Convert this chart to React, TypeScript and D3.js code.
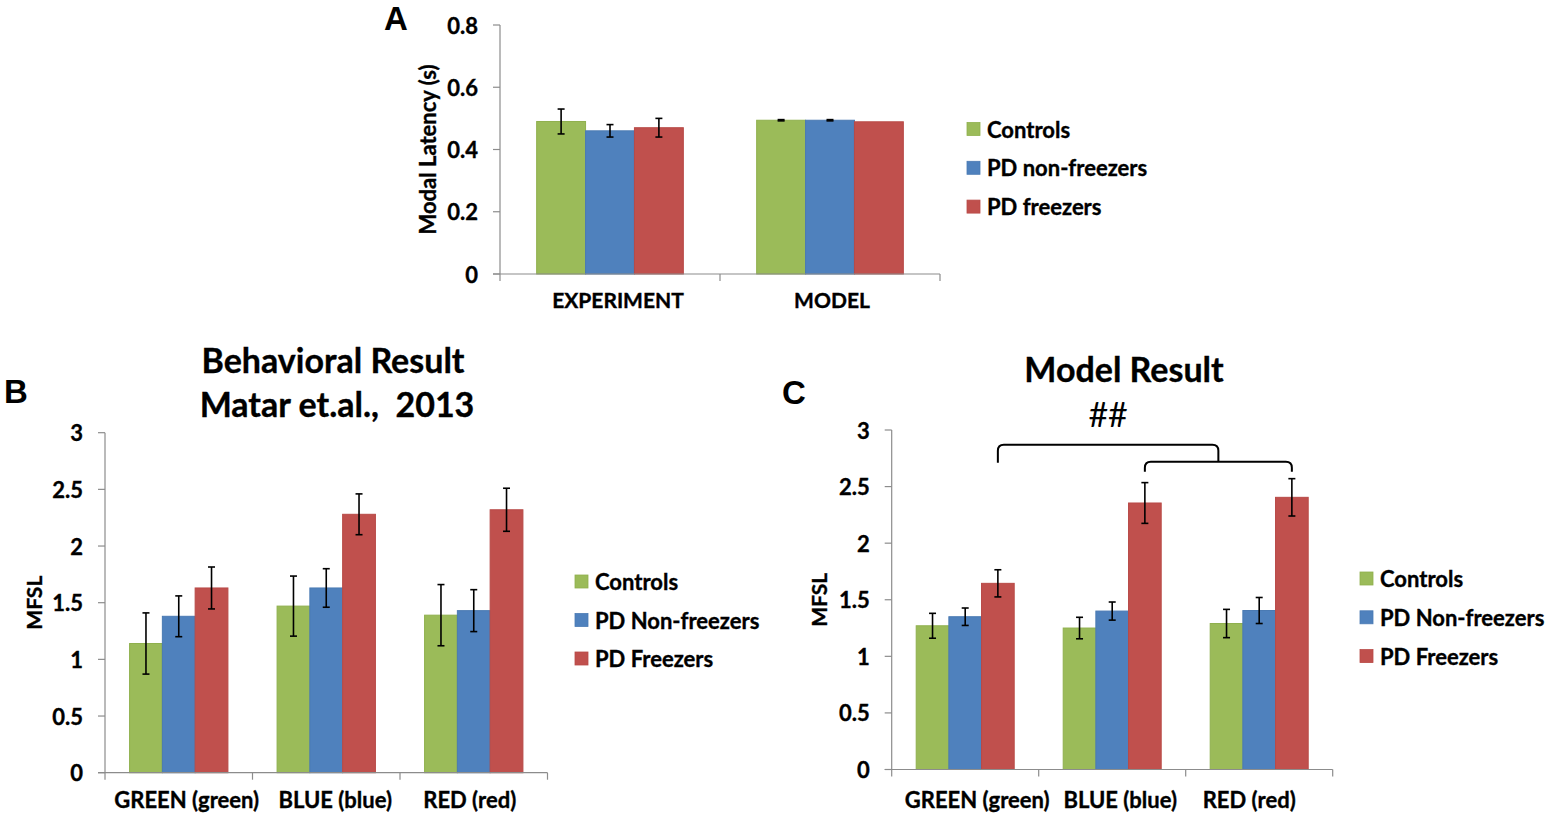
import React from "react";
import * as d3 from "d3";

// ---------- DATA ----------
const seriesA = ["Controls", "PD non-freezers", "PD freezers"];
const seriesBC = ["Controls", "PD Non-freezers", "PD Freezers"];
const seriesColors = ["#9BBB59", "#4F81BD", "#C0504D"];
const seriesStroke = ["#8FB04D", "#4A7AB3", "#B84A47"];

const aCategories = ["EXPERIMENT", "MODEL"];
const aControls = [0.49, 0.494];
const aControlsErr = [0.04, 0.002];
const aNonFreezers = [0.46, 0.494];
const aNonFreezersErr = [0.02, 0.002];
const aFreezers = [0.47, 0.489];
const aFreezersErr = [0.03, 0];
const aTicks = [0, 0.2, 0.4, 0.6, 0.8];

const bcCategories = ["GREEN (green)", "BLUE (blue)", "RED (red)"];
const bControls = [1.14, 1.47, 1.39];
const bControlsErr = [0.27, 0.265, 0.27];
const bNonFreezers = [1.38, 1.63, 1.43];
const bNonFreezersErr = [0.18, 0.17, 0.185];
const bFreezers = [1.63, 2.28, 2.32];
const bFreezersErr = [0.185, 0.18, 0.19];

const cControls = [1.27, 1.25, 1.29];
const cControlsErr = [0.11, 0.095, 0.125];
const cNonFreezers = [1.35, 1.4, 1.405];
const cNonFreezersErr = [0.077, 0.08, 0.115];
const cFreezers = [1.645, 2.355, 2.405];
const cFreezersErr = [0.12, 0.18, 0.165];
const bcTicks = [0, 0.5, 1, 1.5, 2, 2.5, 3];

// significance bracket levels (data units) for panel C
const bracketOuter = { top: 2.87, end: 2.71 };
const bracketInner = { top: 2.72, end: 2.63 };

const FONT = "Lato, 'Open Sans', sans-serif";
const AXIS = "#8C8C8C";
const boldText = { stroke: "#000", strokeWidth: 0.35 } as const;

type PanelProps = {
  categories: string[];
  values: number[][];
  errors: number[][];
  ticks: number[];
  x0: number;
  x1: number;
  yTop: number;
  yBottom: number;
  yMax: number;
  tickFmt: (v: number) => string;
  yTitle: string;
  yTitleX: number;
  yTitleSize: number;
  catLabelY: number;
  catLabelSize: number;
  catLabelDx?: number[];
  children?: (
    xs: d3.ScaleBand<string>,
    inner: d3.ScaleBand<string>,
    y: d3.ScaleLinear<number, number>
  ) => React.ReactNode;
};

function Panel(p: PanelProps) {
  const xs = d3.scaleBand<string>().domain(p.categories).range([p.x0, p.x1]).paddingInner(0).paddingOuter(0);
  const inner = d3
    .scaleBand<string>()
    .domain(["0", "1", "2"])
    .range([0, xs.bandwidth()])
    .paddingInner(0)
    .paddingOuter(0.75);
  const y = d3.scaleLinear().domain([0, p.yMax]).range([p.yBottom, p.yTop]);
  const bw = inner.bandwidth();
  const boundaries = [...p.categories.map((c) => xs(c)!), p.x1];

  return (
    <g>
      {p.categories.map((c, ci) =>
        p.values.map((vals, si) => {
          const x = xs(c)! + inner(String(si))!;
          return (
            <rect
              key={`b-${ci}-${si}`}
              x={x}
              y={y(vals[ci])}
              width={bw}
              height={y(0) - y(vals[ci])}
              fill={seriesColors[si]}
              stroke={seriesStroke[si]}
              strokeWidth={1}
            />
          );
        })
      )}
      <line x1={p.x0} x2={p.x0} y1={p.yTop} y2={p.yBottom} stroke={AXIS} strokeWidth={1.2} />
      <line x1={p.x0 - 7} x2={p.x1} y1={p.yBottom} y2={p.yBottom} stroke={AXIS} strokeWidth={1.2} />
      {p.ticks.map((t) => (
        <g key={`t-${t}`}>
          <line x1={p.x0 - 7} x2={p.x0} y1={y(t)} y2={y(t)} stroke={AXIS} strokeWidth={1.2} />
          <text
            x={p.x0 - 22}
            y={y(t)}
            textAnchor="end"
            dominantBaseline="central"
            fontFamily={FONT}
            fontWeight={700}
            fontSize={22}
            fill="#000"
            {...boldText}
          >
            {p.tickFmt(t)}
          </text>
        </g>
      ))}
      {boundaries.map((bx, i) => (
        <line key={`xb-${i}`} x1={bx} x2={bx} y1={p.yBottom} y2={p.yBottom + 7} stroke={AXIS} strokeWidth={1.2} />
      ))}
      {p.categories.map((c, ci) => (
        <text
          key={`cl-${c}`}
          x={xs(c)! + xs.bandwidth() / 2 + (p.catLabelDx ? p.catLabelDx[ci] : 0)}
          y={p.catLabelY}
          textAnchor="middle"
          fontFamily={FONT}
          fontWeight={700}
          fontSize={p.catLabelSize}
          fill="#000"
          {...boldText}
        >
          {c}
        </text>
      ))}
      {p.categories.map((c, ci) =>
        p.values.map((vals, si) => {
          const e = p.errors[si][ci];
          if (e <= 0) return null;
          const cx = xs(c)! + inner(String(si))! + bw / 2;
          const yt = y(vals[ci] + e);
          const yb = y(vals[ci] - e);
          return (
            <g key={`e-${ci}-${si}`} stroke="#000" strokeWidth={1.6}>
              <line x1={cx} x2={cx} y1={yt} y2={yb} />
              <line x1={cx - 3.5} x2={cx + 3.5} y1={yt} y2={yt} />
              <line x1={cx - 3.5} x2={cx + 3.5} y1={yb} y2={yb} />
            </g>
          );
        })
      )}
      <text
        transform={`translate(${p.yTitleX},${(p.yTop + p.yBottom) / 2}) rotate(-90)`}
        textAnchor="middle"
        fontFamily={FONT}
        fontWeight={700}
        fontSize={p.yTitleSize}
        fill="#000"
        {...boldText}
      >
        {p.yTitle}
      </text>
      {p.children ? p.children(xs, inner, y) : null}
    </g>
  );
}

function Legend({ x, y, names, gap }: { x: number; y: number; names: string[]; gap: number }) {
  return (
    <g>
      {names.map((n, i) => (
        <g key={n} transform={`translate(${x},${y + i * gap})`}>
          <rect x={0} y={-6.5} width={13} height={13} fill={seriesColors[i]} stroke={seriesStroke[i]} strokeWidth={0.8} />
          <text x={20} y={0} dominantBaseline="central" fontFamily={FONT} fontWeight={700} fontSize={22} fill="#000" {...boldText}>
            {n}
          </text>
        </g>
      ))}
    </g>
  );
}

export default function App() {
  const fmtA = (v: number) => (v === 0 ? "0" : d3.format(".1f")(v));
  const fmtBC = (v: number) => d3.format("~g")(v);
  const letterFont = "'Liberation Sans', Arial, sans-serif";

  return (
    <svg
      width={1550}
      height={819}
      style={{ position: "absolute", left: 0, top: 0, background: "#fff" }}
      xmlns="http://www.w3.org/2000/svg"
    >
      <rect x={0} y={0} width={1550} height={819} fill="#fff" />
      {/* Panel A */}
      <Panel
        categories={aCategories}
        values={[aControls, aNonFreezers, aFreezers]}
        errors={[aControlsErr, aNonFreezersErr, aFreezersErr]}
        ticks={aTicks}
        x0={500}
        x1={940}
        yTop={25}
        yBottom={274}
        yMax={0.8}
        tickFmt={fmtA}
        yTitle="Modal Latency (s)"
        yTitleX={436}
        yTitleSize={22}
        catLabelY={308}
        catLabelSize={21}
        catLabelDx={[8, 2]}
      />
      <Legend x={967} y={129} names={seriesA} gap={38.8} />
      <text x={384} y={30} fontFamily={letterFont} fontWeight={700} fontSize={33} fill="#000">
        A
      </text>

      {/* Panel B */}
      <Panel
        categories={bcCategories}
        values={[bControls, bNonFreezers, bFreezers]}
        errors={[bControlsErr, bNonFreezersErr, bFreezersErr]}
        ticks={bcTicks}
        x0={105}
        x1={547.5}
        yTop={432.7}
        yBottom={772.7}
        yMax={3}
        tickFmt={fmtBC}
        yTitle="MFSL"
        yTitleX={42}
        yTitleSize={21}
        catLabelY={808}
        catLabelSize={22}
        catLabelDx={[8, 9, -4]}
      />
      <Legend x={575} y={581.5} names={seriesBC} gap={38.5} />
      <text x={4} y={403} fontFamily={letterFont} fontWeight={700} fontSize={33} fill="#000">
        B
      </text>
      <text x={333} y={373} textAnchor="middle" fontFamily={FONT} fontWeight={700} fontSize={34} fill="#000" {...boldText}>
        Behavioral Result
      </text>
      <text x={337} y={417} textAnchor="middle" fontFamily={FONT} fontWeight={700} fontSize={34} fill="#000" style={{ whiteSpace: "pre" }} {...boldText}>
        {"Matar et.al.,  2013"}
      </text>

      {/* Panel C */}
      <Panel
        categories={bcCategories}
        values={[cControls, cNonFreezers, cFreezers]}
        errors={[cControlsErr, cNonFreezersErr, cFreezersErr]}
        ticks={bcTicks}
        x0={891.7}
        x1={1332.7}
        yTop={430}
        yBottom={769.5}
        yMax={3}
        tickFmt={fmtBC}
        yTitle="MFSL"
        yTitleX={827}
        yTitleSize={21}
        catLabelY={808}
        catLabelSize={22}
        catLabelDx={[12, 8, -10]}
      >
        {(xs, inner, y) => {
          const redCenter = (ci: number) => xs(bcCategories[ci])! + inner("2")! + inner.bandwidth() / 2;
          const lx = redCenter(0);
          const ix1 = redCenter(1);
          const ix2 = redCenter(2);
          const mid = (ix1 + ix2) / 2;
          const r = 6;
          const oT = y(bracketOuter.top);
          const oE = y(bracketOuter.end);
          const iT = y(bracketInner.top);
          const iE = y(bracketInner.end);
          const outer = `M${lx},${oE} L${lx},${oT + r} Q${lx},${oT} ${lx + r},${oT} L${mid - r},${oT} Q${mid},${oT} ${mid},${oT + r} L${mid},${iT}`;
          const innerPath = `M${ix1},${iE} L${ix1},${iT + r} Q${ix1},${iT} ${ix1 + r},${iT} L${ix2 - r},${iT} Q${ix2},${iT} ${ix2},${iT + r} L${ix2},${iE}`;
          return (
            <g>
              <path d={outer} fill="none" stroke="#000" strokeWidth={2} />
              <path d={innerPath} fill="none" stroke="#000" strokeWidth={2} />
              <text x={(lx + mid) / 2} y={427} textAnchor="middle" fontFamily={FONT} fontWeight={400} fontSize={34} fill="#000">
                ##
              </text>
            </g>
          );
        }}
      </Panel>
      <Legend x={1360} y={578.5} names={seriesBC} gap={38.8} />
      <text x={782} y={404} fontFamily={letterFont} fontWeight={700} fontSize={33} fill="#000">
        C
      </text>
      <text x={1124} y={382} textAnchor="middle" fontFamily={FONT} fontWeight={700} fontSize={34} fill="#000" {...boldText}>
        Model Result
      </text>
    </svg>
  );
}
